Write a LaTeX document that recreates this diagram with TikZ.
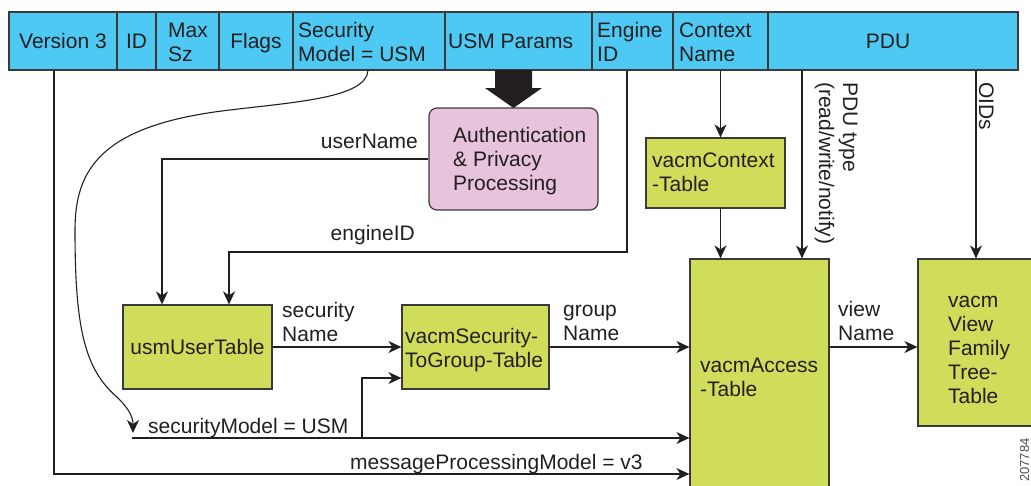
\documentclass[tikz,border=0pt]{standalone}
\usepackage{fontspec}
\setmainfont{Liberation Sans}
\usetikzlibrary{arrows.meta,calc}
\definecolor{hdr}{HTML}{4DC9F3}
\definecolor{tbl}{HTML}{CFDD5B}
\definecolor{pnk}{HTML}{E7C3DE}
\definecolor{ink}{HTML}{231F20}
\definecolor{edge}{HTML}{3A3A3A}
\newcommand{\lns}[1]{\begin{tabular}[t]{@{}l@{}}#1\end{tabular}}
\begin{document}
\begin{tikzpicture}[x=1pt,y=-1pt,
  font=\fontsize{21}{24}\selectfont,
  cell/.style={draw=edge, line width=1.2pt, fill=hdr, minimum height=58pt, inner sep=0pt},
  tbox/.style={draw=edge, line width=1.2pt, fill=tbl, inner sep=0pt, text=ink},
  txt/.style={inner sep=0pt, text=ink},
  arr/.style={draw=ink, line width=1.1pt, -{Stealth[length=13pt,width=12pt,inset=4pt]}},
  plain/.style={draw=ink, line width=1.1pt}]
\useasboundingbox (0,0) rectangle (1031,485);
\clip (0,0) rectangle (1031,485);
% header cells
\node[cell, minimum width=108pt] (v3) at (63,41) {};
\node[cell, minimum width=39pt] (id) at (136.5,41) {};
\node[cell, minimum width=63pt] (max) at (187.5,41) {};
\node[cell, minimum width=74pt] (flags) at (256,41) {};
\node[cell, minimum width=152pt] (secm) at (369,41) {};
\node[cell, minimum width=147pt] (usmp) at (518.5,41) {};
\node[cell, minimum width=81pt] (eng) at (632.5,41) {};
\node[cell, minimum width=95pt] (ctx) at (720.5,41) {};
\node[cell, minimum width=250pt] (pdu) at (893,41) {};
% header texts
\node[txt, anchor=base] (tv3) at (63,48) {Version 3};
\node[txt, anchor=base] (tid) at (136.5,48) {ID};
\node[txt, anchor=base west] (tmax) at (168,37) {\lns{Max\\Sz}};
\node[txt, anchor=base] (tflags) at (256,48) {Flags};
\node[txt, anchor=base west] (tsec) at (298,37) {\lns{Security\\Model = USM}};
\node[txt, anchor=base west] (tusm) at (448,48) {USM Params};
\node[txt, anchor=base west] (teng) at (597,37) {\lns{Engine\\ID}};
\node[txt, anchor=base west] (tctx) at (679,37) {\lns{Context\\Name}};
\node[txt, anchor=base] (tpdu) at (888,48) {PDU};
% boxes
\node[draw=edge, line width=1.2pt, fill=pnk, rounded corners=8pt, minimum width=169pt, minimum height=102pt, inner sep=0pt] (auth) at (513.5,159) {};
\node[txt, anchor=base west] (tauth) at (453,142) {\lns{Authentication\\\& Privacy\\Processing}};
\node[tbox, minimum width=139pt, minimum height=70pt] (vcx) at (715.5,173) {};
\node[txt, anchor=base west] (tvcx) at (652,167) {\lns{vacmContext\\-Table}};
\node[tbox, minimum width=149pt, minimum height=84pt] (usm) at (197.5,347) {usmUserTable};
\node[tbox, minimum width=147pt, minimum height=84pt] (s2g) at (475.5,347) {};
\node[txt, anchor=base west] (ts2g) at (405,343) {\lns{vacmSecurity-\\ToGroup-Table}};
\node[tbox, minimum width=139pt, minimum height=238pt] (acc) at (759.5,378) {};
\node[txt, anchor=base west] (tacc) at (700,372) {\lns{vacmAccess\\-Table}};
\node[tbox, minimum width=130pt, minimum height=167pt] (vvf) at (983,342.5) {};
\node[txt, anchor=base west] (tvvf) at (948,307) {\lns{vacm\\View\\Family\\Tree-\\Table}};
% block arrow
\fill[ink] (495,70) -- (532,70) -- (532,88) -- (542,88) -- (513.5,108) -- (485,88) -- (495,88) -- cycle;
% coordinates
\coordinate (smtip) at (133,433);
\coordinate (smL) at (132,438);
\coordinate (smB) at (362,438);
\coordinate (eidturn) at (229,252);
\coordinate (pdux) at ([xshift=-91pt]pdu.south);
\coordinate (oidx) at ([xshift=83pt]pdu.south);
% connectors
\draw[arr] ([xshift=-9pt]v3.south) |- ([yshift=-96pt]acc.west);
\draw[arr] ([xshift=-1pt]secm.south) .. controls (366,98) and (295,102) .. (230,110)
   .. controls (100,125) and (75,170) .. (75,230)
   .. controls (75,330) and (85,370) .. (118,398)
   .. controls (130,410) and (133,418) .. (smtip);
\draw[arr] (smL) -- (smL -| acc.west);
\draw[arr] (smB) |- ([yshift=-31pt]s2g.west);
\draw[arr] (auth.west) -| ([xshift=-35.5pt]usm.north);
\draw[arr] ([xshift=-5.5pt]eng.south) |- (eidturn) -- ([xshift=31.5pt]usm.north);
\draw[arr] (ctx.south) -- (ctx.south |- vcx.north);
\draw[arr] (ctx.south |- vcx.south) -- (ctx.south |- acc.north);
\draw[arr] (pdux) -- (pdux |- acc.north);
\draw[arr] (oidx) -- (oidx |- vvf.north);
\draw[arr] (usm.east) -- (s2g.west);
\draw[arr] (s2g.east) -- (s2g.east -| acc.west);
\draw[arr] (s2g.east -| acc.east) -- (s2g.east -| vvf.west);
% labels
\node[txt, anchor=base east] (lun) at (418,148) {userName};
\node[txt, anchor=base east] (leid) at (415,240) {engineID};
\node[txt, anchor=base west] (lsn) at (282,317) {\lns{security\\Name}};
\node[txt, anchor=base west] (lgn) at (563,316) {\lns{group\\Name}};
\node[txt, anchor=base west] (lvn) at (838,316) {\lns{view\\Name}};
\node[txt, anchor=base west] (lsm) at (148,433) {securityModel = USM};
\node[txt, anchor=base west] (lmp) at (350,469) {messageProcessingModel = v3};
\node[txt, anchor=base west, rotate=-90] (lpdu) at (843,82) {\lns{PDU type\\(read/write/notify)}};
\node[txt, anchor=base west, rotate=-90] (loid) at (979,82) {OIDs};
\node[txt, anchor=base west, rotate=90, font=\fontsize{13}{15}\selectfont, text=ink!80] (fid) at (1029,482) {207784};
\end{tikzpicture}
\end{document}
